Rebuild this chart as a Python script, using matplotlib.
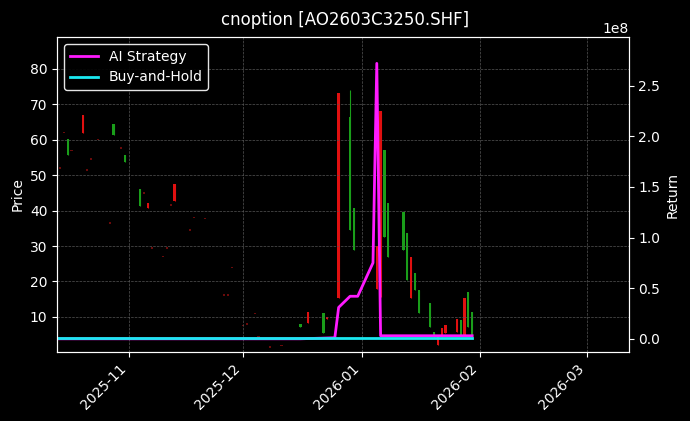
import matplotlib
matplotlib.use("Agg")
import matplotlib.pyplot as plt
import matplotlib.dates as mdates
import pandas as pd

plt.style.use("dark_background")

# candles: date, open, high, low, close
c_dates = ["2025-10-16","2025-10-20","2025-10-28","2025-10-31","2025-11-04","2025-11-06","2025-11-13",
           "2025-12-16","2025-12-18","2025-12-22","2025-12-23","2025-12-26","2025-12-29","2025-12-30",
           "2026-01-05","2026-01-06","2026-01-07","2026-01-08","2026-01-12","2026-01-13","2026-01-14",
           "2026-01-15","2026-01-16","2026-01-19","2026-01-20","2026-01-21","2026-01-22","2026-01-23",
           "2026-01-26","2026-01-27","2026-01-28","2026-01-29","2026-01-30"]
c_open  = [55.7,67,61.4,53.8,41.3,42.2,47.5, 7.2,11.4,5.5,10,73.2,34.5,29, 30,68,32.6,27,29,20.4,27, 17.6,11,7.2,4.4,4.4,7,7.7, 9.4,4.9,15.4,7.2,4.4]
c_close = [60.2,62,64.5,55.7,46,40.8,42.8, 8,8.3,11,9.5,15.4,66.5,40.8, 18,15.7,57,42.2,39.6,33.7,15.4, 22.4,17.6,14,5.8,2,4.4,5.5, 5.8,9.2,4.9,17,11.4]
c_high  = [60.2,67,64.5,55.7,46,42.2,47.5, 8,11.4,11,10,73.2,74,40.8, 30,68,57,42.2,39.6,33.7,27, 22.4,17.6,14,5.8,4.4,7,7.7, 9.4,9.2,15.4,17,11.4]
c_low   = [55.7,62,61.4,53.8,41.3,40.8,42.8, 7.2,8.3,5.5,9.5,15.4,34.5,29, 18,15.7,32.6,27,29,20.4,15.4, 17.6,11,7.2,4.4,2,4.4,5.5, 5.8,4.9,4.9,7.2,4.4]

# faint doji points
d_dates = ["2025-10-14","2025-10-15","2025-10-17","2025-10-21","2025-10-22","2025-10-24","2025-10-27",
           "2025-10-30","2025-11-05","2025-11-07","2025-11-10","2025-11-11","2025-11-12","2025-11-17",
           "2025-11-18","2025-11-21","2025-11-26","2025-11-27","2025-11-28","2025-12-01","2025-12-02",
           "2025-12-04","2025-12-05","2025-12-08","2025-12-11"]
d_price = [52,62,57,51.5,54.6,60,36.5,57.7,45,29.5,27,29.5,41.6,34.5,38,37.7,16.2,16.2,24,7.5,8,11,4.5,1.5,2]

s_dates = ["2025-10-13","2025-12-16","2025-12-25","2025-12-26","2025-12-29","2025-12-31","2026-01-04",
           "2026-01-05","2026-01-06","2026-01-30"]
s_ret = [0.0,0.0,0.01e8,0.31e8,0.42e8,0.42e8,0.75e8,2.72e8,0.03e8,0.03e8]
b_dates = ["2025-10-13","2026-01-30"]
b_ret = [0.01e8,0.01e8]

fig, ax = plt.subplots(figsize=(6.9,4.21), dpi=100)
fig.patch.set_facecolor("black")
ax.set_facecolor("black")
ax2 = ax.twinx()

cd = mdates.date2num(pd.to_datetime(c_dates))
for x,o,h,l,c in zip(cd,c_open,c_high,c_low,c_close):
    col = "#1a9e1a" if c >= o else "#e01010"
    ax.vlines(x,l,h,color=col,lw=0.8)
    ax.bar(x,max(abs(c-o),0.3),bottom=min(o,c),width=0.6,color=col)
dd = mdates.date2num(pd.to_datetime(d_dates))
for x,p in zip(dd,d_price):
    ax.bar(x,0.4,bottom=p-0.2,width=0.6,color="#6a0a0a")

ax.set_ylim(0.1,89)
ax.set_ylabel("Price")
ax.grid(True,color="#555555",linestyle="--",linewidth=0.5)
ax.set_xlim(mdates.date2num(pd.Timestamp("2025-10-13 06:00")), mdates.date2num(pd.Timestamp("2026-03-12")))

l1, = ax2.plot(pd.to_datetime(s_dates), s_ret, color="#ff1aff", lw=2, label="AI Strategy")
l2, = ax2.plot(pd.to_datetime(b_dates), b_ret, color="#1ae8f0", lw=2, label="Buy-and-Hold")
ax2.set_ylim(-0.13e8,2.98e8)
ax2.set_ylabel("Return")

ax.xaxis.set_major_locator(mdates.MonthLocator())
ax.xaxis.set_major_formatter(mdates.DateFormatter("%Y-%m"))
plt.setp(ax.get_xticklabels(), rotation=45, ha="right")
fig.suptitle("cnoption [AO2603C3250.SHF]", y=0.975, fontsize=12)
leg = ax.legend([l1,l2],["AI Strategy","Buy-and-Hold"],loc="upper left",facecolor="black",edgecolor="white",framealpha=0.9)
fig.subplots_adjust(left=0.083,right=0.911,top=0.912,bottom=0.164)
fig.savefig("out.png", facecolor="black")
